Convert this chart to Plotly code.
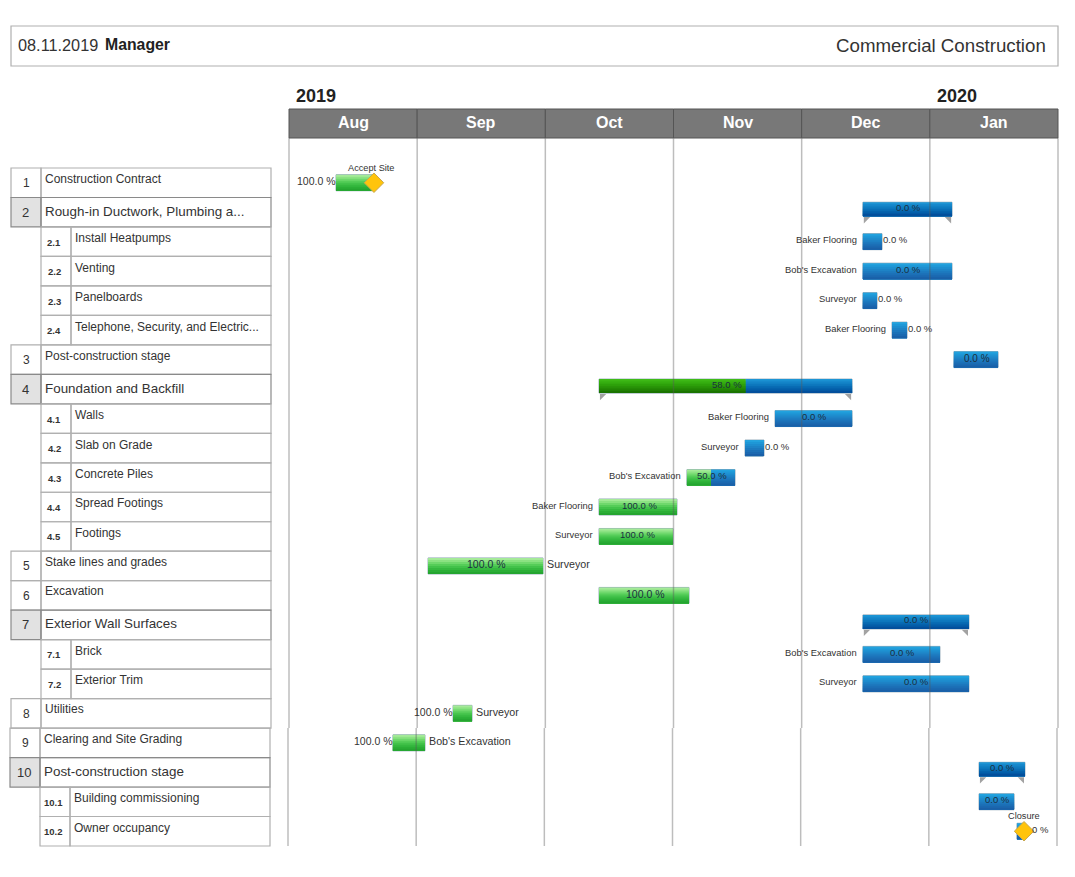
import plotly.graph_objs as go

W, H = 1075, 877

MONTHS = ['Aug', 'Sep', 'Oct', 'Nov', 'Dec', 'Jan']
YEARS = [(0, '2019'), (5, '2020')]

ROW_NUM = ['1', '2', '2.1', '2.2', '2.3', '2.4', '3', '4', '4.1', '4.2', '4.3', '4.4', '4.5',
           '5', '6', '7', '7.1', '7.2', '8', '9', '10', '10.1', '10.2']
ROW_NAME = ['Construction Contract', 'Rough-in Ductwork, Plumbing a...', 'Install Heatpumps', 'Venting',
            'Panelboards', 'Telephone, Security, and Electric...', 'Post-construction stage',
            'Foundation and Backfill', 'Walls', 'Slab on Grade', 'Concrete Piles', 'Spread Footings',
            'Footings', 'Stake lines and grades', 'Excavation', 'Exterior Wall Surfaces', 'Brick',
            'Exterior Trim', 'Utilities', 'Clearing and Site Grading', 'Post-construction stage',
            'Building commissioning', 'Owner occupancy']
SUMMARY = ['2', '4', '7', '10']

# position in months from 1 Aug 2019 (every month column has the same width)
START = [0.367, 4.478, 4.478, 4.478, 4.478, 4.705, 5.188, 2.419, 3.792, 3.558, 3.105, 2.419,
         2.419, 1.085, 2.419, 4.478, 4.478, 4.478, 1.280, 0.811, 5.384, 5.384, 5.680]
FINISH = [0.650, 5.173, 4.627, 5.173, 4.588, 4.822, 5.532, 4.393, 4.393, 3.706, 3.480, 3.027,
          2.996, 1.982, 3.121, 5.305, 5.079, 5.305, 1.428, 1.061, 5.742, 5.657, 5.735]
DONE = [100, 0, 0, 0, 0, 0, 0, 58, 0, 0, 50, 100, 100, 100, 100, 0, 0, 0, 100, 100, 0, 0, 0]
RESOURCE = ['', '', 'Baker Flooring', "Bob's Excavation", 'Surveyor', 'Baker Flooring', '', '',
            'Baker Flooring', 'Surveyor', "Bob's Excavation", 'Baker Flooring', 'Surveyor', 'Surveyor',
            '', '', "Bob's Excavation", 'Surveyor', 'Surveyor', "Bob's Excavation", '', '', '']
PCT_SIDE = ['left', 'c', 'right', 'c', 'right', 'right', 'c', 'c', 'c', 'right', 'c', 'c', 'c', 'c',
            'c', 'c', 'c', 'c', 'left', 'left', 'c', 'c', 'right']
MILESTONE_ROW = [0, 22]
MILESTONE_X = [0.663, 5.735]
MILESTONE_NAME = ['Accept Site', 'Closure']
MILESTONE_SHIFT = [-3, 0]

GREEN = ['#a4ea98', '#8be282', '#6fd86c', '#55cd58', '#42c24a', '#35b83f', '#2bae36', '#25a530']
BLUE = ['#22a2de', '#1f97d6', '#1e8dce', '#1e83c6', '#1d79be', '#1c70b7', '#1b68b0', '#1a60a8']
SUM_GREEN = ['#3fba18', '#38b212', '#32a90e', '#2d9f0a', '#299508', '#248a05', '#1f7f03', '#1a7400']
SUM_BLUE = ['#1c94d4', '#1789cc', '#1180c4', '#0c76bc', '#086cb4', '#0562ac', '#0358a4', '#024f9c']

TABLE_FONT = 'Liberation Sans, Arial, sans-serif'
GRID_TOP, ROW_TOP, ROW_BOTTOM = 138, 168, 846
ROW_H = (ROW_BOTTOM - ROW_TOP) / len(ROW_NUM)
COL_W = (1058 - 289) / len(MONTHS)


def px(v):
    return v / W


def py(v):
    return 1 - v / H


shapes = []
notes = []


def note(text, x, y, size, color='#333333', bold=False, anchor='left'):
    notes.append(dict(text=f'<b>{text}</b>' if bold else text, x=px(x), y=py(y), xref='paper', yref='paper',
                      xanchor=anchor, yanchor='middle', showarrow=False, borderpad=0,
                      font=dict(size=size, color=color, family=TABLE_FONT)))


def box(x0, y0, x1, y1, fill='rgba(0,0,0,0)', line='#b0b0b0', width=1.2):
    shapes.append(dict(type='rect', xref='paper', yref='paper', x0=px(x0), x1=px(x1), y0=py(y0), y1=py(y1),
                       fillcolor=fill, line=dict(color=line, width=width), layer='below'))


# top title box
box(11, 26, 1058, 66)
note('08.11.2019', 17, 45.5, 16.3)
note('Manager', 104, 44.5, 15.8, '#222222', True)
note('Commercial Construction', 1047, 45.5, 18.7, anchor='right')

# task table on the left, rows from 9 on sit one pixel further left
for i, (num, name) in enumerate(zip(ROW_NUM, ROW_NAME)):
    y0 = ROW_TOP + i * ROW_H
    y1 = y0 + ROW_H
    mid = (y0 + y1) / 2
    d = 1 if i >= 19 else 0
    if '.' in num:
        box(41 - d, y0, 71 - d, y1)
        box(71 - d, y0, 271 - d, y1)
        note(num, 54 - d, mid + 0.5, 9.5, '#333333', True, 'center')
        note(name, 74 - d, mid - 3.5, 12)
    elif num in SUMMARY:
        box(11 - d, y0, 41 - d, y1, fill='#e2e2e2', line='#8a8a8a')
        box(41 - d, y0, 271 - d, y1, line='#8a8a8a')
        note(num, 25 - d, mid, 13, anchor='center')
        note(name, 44 - d, mid - 1, 13.4)
    else:
        box(11 - d, y0, 41 - d, y1)
        box(41 - d, y0, 271 - d, y1)
        note(num, 26 - d, mid + 0.5, 12, anchor='center')
        note(name, 44 - d, mid - 4, 12)

# month header
for i, m in enumerate(MONTHS):
    shapes.append(dict(type='rect', xref='paper', yref='paper', x0=px(289 + i * COL_W), x1=px(289 + (i + 1) * COL_W),
                       y0=py(138), y1=py(109), fillcolor='#787878', line=dict(color='#555555', width=1), layer='above'))
    notes.append(dict(text=f'<b>{m}</b>', x=i + 0.5, y=py(122.5), xref='x', yref='paper', showarrow=False,
                      xanchor='center', yanchor='middle', font=dict(size=16, color='white', family=TABLE_FONT)))
for i, year in YEARS:
    notes.append(dict(text=f'<b>{year}</b>', x=i, xshift=6, y=py(95.5), xref='x', yref='paper', showarrow=False,
                      xanchor='left', yanchor='middle', borderpad=0,
                      font=dict(size=18, color='#222222', family=TABLE_FONT)))

# month lines go over the bars, lower part is one pixel further left like the table
split_y = ROW_TOP + 19 * ROW_H
grid_line = dict(color='rgba(90,90,90,0.4)', width=1.5)
for i in range(len(MONTHS) + 1):
    xg = px(289 + i * COL_W)
    shapes.append(dict(type='line', xref='paper', yref='paper', x0=xg, x1=xg, y0=py(GRID_TOP), y1=py(split_y),
                       line=grid_line, layer='above'))
    xl = px(288 + i * COL_W)
    shapes.append(dict(type='line', xref='paper', yref='paper', x0=xl, x1=xl, y0=py(split_y), y1=py(ROW_BOTTOM),
                       line=grid_line, layer='above'))

# one entry per coloured piece of a bar
seg_y, seg_base, seg_len, seg_ramp, seg_sum = [], [], [], [], []
for i, num in enumerate(ROW_NUM):
    is_sum = num in SUMMARY
    split = START[i] + (FINISH[i] - START[i]) * DONE[i] / 100
    if DONE[i] > 0:
        seg_y.append(i + 0.5)
        seg_base.append(START[i])
        seg_len.append(split - START[i])
        seg_ramp.append(SUM_GREEN if is_sum else GREEN)
        seg_sum.append(is_sum)
    if DONE[i] < 100:
        seg_y.append(i + 0.5)
        seg_base.append(split)
        seg_len.append(FINISH[i] - split)
        seg_ramp.append(SUM_BLUE if is_sum else BLUE)
        seg_sum.append(is_sum)

fig = go.Figure()


def bar_top(is_sum):
    return (-10 if is_sum else -8) / ROW_H


def bar_height(is_sum):
    return (14 if is_sum else 16) / ROW_H


# outline bar behind the gradient
row_sum = [n in SUMMARY for n in ROW_NUM]
fig.add_trace(go.Bar(orientation='h', y=[i + 0.5 for i in range(len(ROW_NUM))], base=START,
                     x=[f - s for s, f in zip(START, FINISH)],
                     offset=[bar_top(s) for s in row_sum], width=[bar_height(s) for s in row_sum],
                     marker=dict(color='#8fa9bb', line=dict(color='#93a9b8', width=1)), hoverinfo='skip'))

# plotly bars have no gradient, so stack eight bands, each running down to the bar bottom
for k in range(8):
    fig.add_trace(go.Bar(orientation='h', y=seg_y, base=seg_base, x=seg_len,
                         offset=[bar_top(s) + bar_height(s) * k / 8 for s in seg_sum],
                         width=[bar_height(s) * (8 - k) / 8 for s in seg_sum],
                         marker=dict(color=[r[k] for r in seg_ramp], line=dict(width=0)), hoverinfo='skip'))

# little corner flags under summary bars
sum_idx = [i for i, s in enumerate(row_sum) if s]
flag_y = [i + 0.5 + 7 / ROW_H for i in sum_idx]
fig.add_trace(go.Scatter(x=[START[i] + 3 / COL_W for i in sum_idx], y=flag_y, mode='markers', hoverinfo='skip',
                         marker=dict(symbol='triangle-nw', size=7, color='#a2a2a2')))
fig.add_trace(go.Scatter(x=[FINISH[i] - 3 / COL_W for i in sum_idx], y=flag_y, mode='markers', hoverinfo='skip',
                         marker=dict(symbol='triangle-ne', size=7, color='#a2a2a2')))

# milestones
fig.add_trace(go.Scatter(x=MILESTONE_X, y=[r + 0.5 for r in MILESTONE_ROW], mode='markers', hoverinfo='skip',
                         marker=dict(symbol='diamond', size=15, color='#ffc40c',
                                     line=dict(color='#c8a850', width=1))))


def bar_note(text, x, row, size, anchor, shift=0, yshift=0, color='#333333'):
    notes.append(dict(text=text, x=x, y=row + 0.5, xref='x', yref='y', xanchor=anchor, yanchor='middle',
                      xshift=shift, yshift=yshift, showarrow=False, borderpad=0,
                      font=dict(size=size, color=color, family=TABLE_FONT)))


for i, num in enumerate(ROW_NUM):
    sub = '.' in num
    text = f'{DONE[i]:.1f} %'
    size = 9.5 if sub or num in SUMMARY else (10 if DONE[i] == 0 else 10.5)
    up = 5 if num in SUMMARY else (2 if sub else 1.5)
    if PCT_SIDE[i] == 'c':
        bar_note(text, (START[i] + FINISH[i]) / 2, i, size, 'center', shift=1, yshift=up, color='#1b2f40')
    elif PCT_SIDE[i] == 'left':
        bar_note(text, START[i], i, 10.5, 'right', shift=1, yshift=up)
    elif num == '10.2':
        # the diamond hides the start of this label
        bar_note('0 %', FINISH[i], i, 9.5, 'left', shift=7, yshift=up)
    else:
        bar_note(text, FINISH[i], i, 9.5, 'left', shift=0, yshift=up)
    if RESOURCE[i]:
        if sub:
            bar_note(RESOURCE[i], START[i], i, 9.4, 'right', shift=-5, yshift=up)
        else:
            bar_note(RESOURCE[i], FINISH[i], i, 10.7, 'left', shift=3, yshift=up)

for x, r, name, sh in zip(MILESTONE_X, MILESTONE_ROW, MILESTONE_NAME, MILESTONE_SHIFT):
    bar_note(name, x, r, 9.2, 'center', shift=sh, yshift=15)

fig.update_layout(width=W, height=H, margin=dict(l=0, r=0, t=0, b=0), paper_bgcolor='white', plot_bgcolor='white',
                  barmode='overlay', showlegend=False, shapes=shapes, annotations=notes,
                  xaxis=dict(domain=[px(289), px(1058)], range=[0, len(MONTHS)], visible=False, fixedrange=True),
                  yaxis=dict(domain=[py(ROW_BOTTOM), py(GRID_TOP)],
                             range=[len(ROW_NUM), -(ROW_TOP - GRID_TOP) / ROW_H], visible=False, fixedrange=True))

fig.write_html("out.html", config=dict(displayModeBar=False),
               post_script="document.body.style.margin='0';document.body.style.overflow='hidden';")
